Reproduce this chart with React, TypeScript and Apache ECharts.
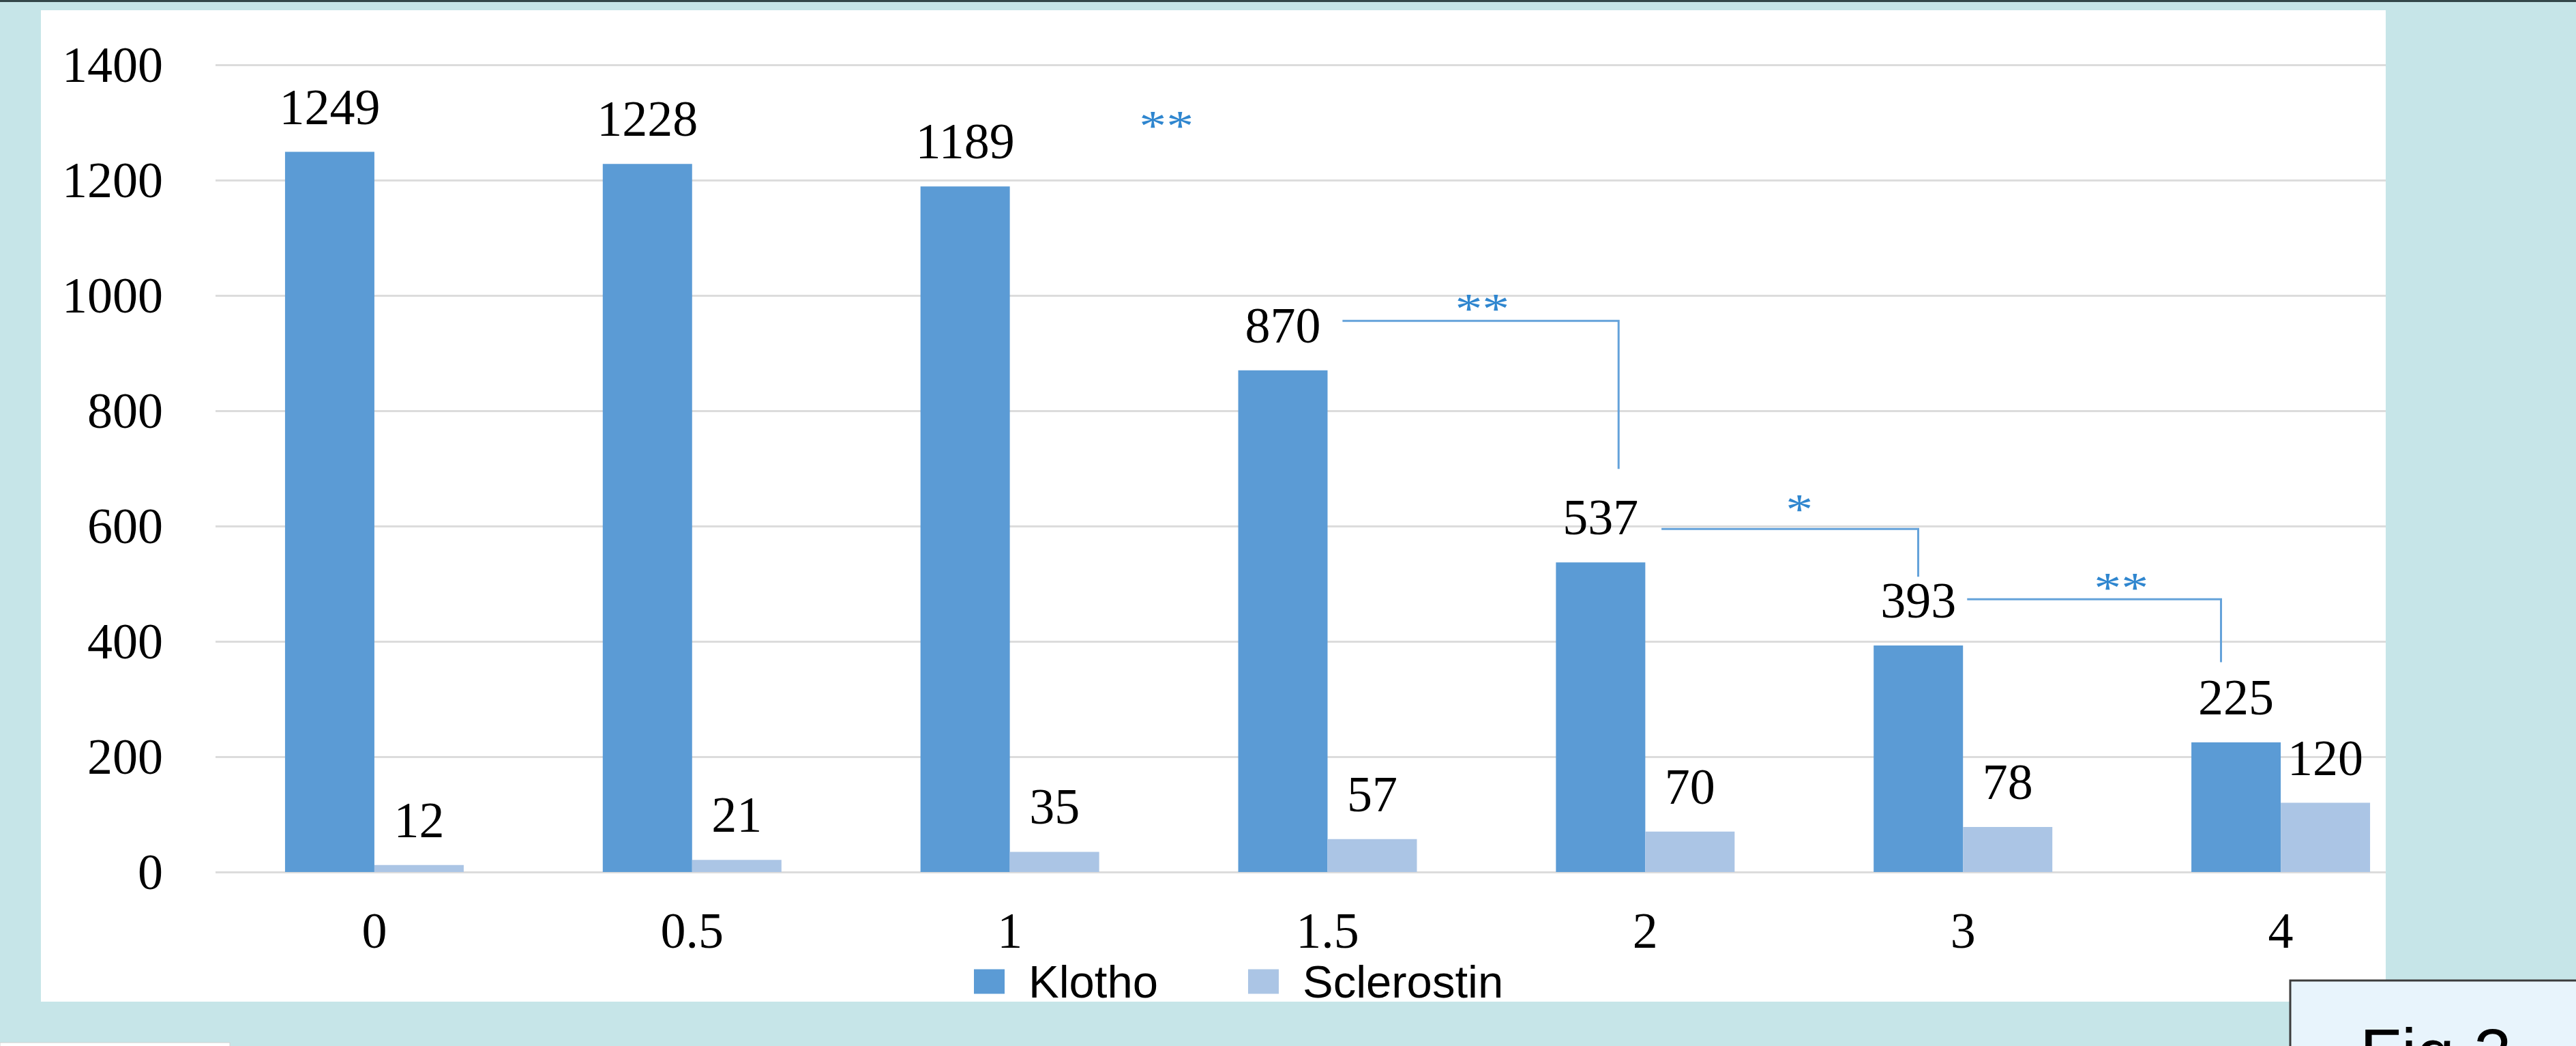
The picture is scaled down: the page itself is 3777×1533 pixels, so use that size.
import React, { useEffect, useRef } from "react";
import * as echarts from "echarts";

const categories = ["0", "0.5", "1", "1.5", "2", "3", "4"];
const klotho = [1249, 1228, 1189, 870, 537, 393, 225];
const sclerostin = [12, 21, 35, 57, 70, 78, 120];
const yMin = 0;
const yMax = 1400;
const yInterval = 200;

// significance brackets: x positions in category-index units, y in data units
const brackets = [
  { label: "**", x1: 3.047, x2: 3.916, y: 956, yEnd: 699, tx: 3.487, ty: 986 },
  { label: "*", x1: 4.051, x2: 4.859, y: 595, yEnd: 512, tx: 4.485, ty: 639 },
  { label: "**", x1: 5.013, x2: 5.812, y: 473, yEnd: 364, tx: 5.498, ty: 503 },
];
const loneMarks = [{ label: "**", tx: 2.493, ty: 1304 }];

const W = 3777;
const H = 1533;
const TEAL = "#C6E5E8";
const SERIF = "'Liberation Serif', 'Times New Roman', serif";
const SANS = "'Liberation Sans', Arial, sans-serif";

export default function App() {
  const ref = useRef<HTMLDivElement>(null);
  useEffect(() => {
    document.body.style.margin = "0";
    const chart = echarts.init(ref.current!, null, { renderer: "svg" });
    const labelStyle = {
      show: true,
      position: "top" as const,
      distance: 29,
      fontFamily: SERIF,
      fontSize: 74,
      color: "#000",
    };
    chart.setOption({
      animation: false,
      backgroundColor: TEAL,
      grid: { left: 316, right: 200, top: 95, bottom: 255, containLabel: false },
      legend: {
        left: 1423,
        top: 1400,
        itemWidth: 45,
        itemHeight: 36,
        itemGap: 132,
        icon: "rect",
        textStyle: { fontFamily: SANS, fontSize: 67, color: "#000", padding: [0, 0, 0, 30] },
        data: ["Klotho", "Sclerostin"],
      },
      xAxis: {
        type: "category",
        data: categories,
        axisLine: { show: false },
        axisTick: { show: false },
        axisLabel: { fontFamily: SERIF, fontSize: 74, color: "#000", margin: 49 },
      },
      yAxis: {
        type: "value",
        min: yMin,
        max: yMax,
        interval: yInterval,
        axisLine: { show: false },
        axisTick: { show: false },
        axisLabel: {
          fontFamily: SERIF,
          fontSize: 74,
          color: "#000",
          margin: 77,
          formatter: (v: number) => String(v),
        },
        splitLine: { lineStyle: { color: "#DCDCDC", width: 3 } },
      },
      series: [
        {
          name: "Klotho",
          type: "bar",
          data: klotho,
          barWidth: 131,
          barGap: "0%",
          itemStyle: { color: "#5B9BD5" },
          label: labelStyle,
        },
        {
          name: "Sclerostin",
          type: "bar",
          data: sclerostin,
          barWidth: 131,
          barGap: "0%",
          itemStyle: { color: "#ABC5E5" },
          label: labelStyle,
        },
      ],
    });

    const c0 = chart.convertToPixel({ xAxisIndex: 0 }, 0) as number;
    const c1 = chart.convertToPixel({ xAxisIndex: 0 }, 1) as number;
    const step = c1 - c0;
    const px = (idx: number) => c0 + idx * step;
    const py = (v: number) => chart.convertToPixel({ yAxisIndex: 0 }, v) as number;

    const lineColor = "#64A2DA";
    const starColor = "#2F86CF";
    const starText = (label: string, x: number, y: number) => ({
      type: "text",
      x,
      y: y + 8,
      scaleX: 1.25,
      z: 50,
      style: {
        text: label,
        x: 0,
        y: 0,
        fontFamily: SERIF,
        fontSize: 64,
        fill: starColor,
        align: "center",
        verticalAlign: "middle",
      },
    });

    const graphics: any[] = [
      {
        type: "rect",
        z: -100,
        shape: { x: 60, y: 15, width: 3498 - 60, height: 1468 - 15 },
        style: { fill: "#FFFFFF" },
      },
      {
        type: "rect",
        z: -99,
        shape: { x: 0, y: 0, width: W, height: 3 },
        style: { fill: "#34474A" },
      },
    ];
    brackets.forEach((b) => {
      graphics.push({
        type: "polyline",
        z: 50,
        shape: {
          points: [
            [px(b.x1), py(b.y)],
            [px(b.x2), py(b.y)],
            [px(b.x2), py(b.yEnd)],
          ],
        },
        style: { stroke: lineColor, lineWidth: 3, fill: null },
      });
      graphics.push(starText(b.label, px(b.tx), py(b.ty)));
    });
    loneMarks.forEach((m) => graphics.push(starText(m.label, px(m.tx), py(m.ty))));

    graphics.push(
      {
        type: "rect",
        z: 100,
        shape: { x: 3498, y: 3, width: W - 3498, height: H - 3 },
        style: { fill: TEAL },
      },
      {
        type: "rect",
        z: 100,
        shape: { x: 0, y: 1528, width: 337, height: 10 },
        style: { fill: "#FFFFFF", stroke: "#D0D0D0", lineWidth: 1 },
      },
      {
        type: "rect",
        z: 101,
        shape: { x: 3358, y: 1437, width: 460, height: 150 },
        style: { fill: "#E8F4FC", stroke: "#3C3C3C", lineWidth: 3 },
      },
      {
        type: "text",
        z: 102,
        x: 3460,
        y: 1493,
        style: {
          text: "Fig 2",
          fontFamily: SANS,
          fontSize: 100,
          fill: "#000",
          align: "left",
          verticalAlign: "top",
        },
      }
    );

    chart.setOption({ graphic: graphics });
    return () => chart.dispose();
  }, []);
  return (
    <div
      ref={ref}
      style={{ position: "absolute", left: 0, top: 0, width: W, height: H }}
    />
  );
}
